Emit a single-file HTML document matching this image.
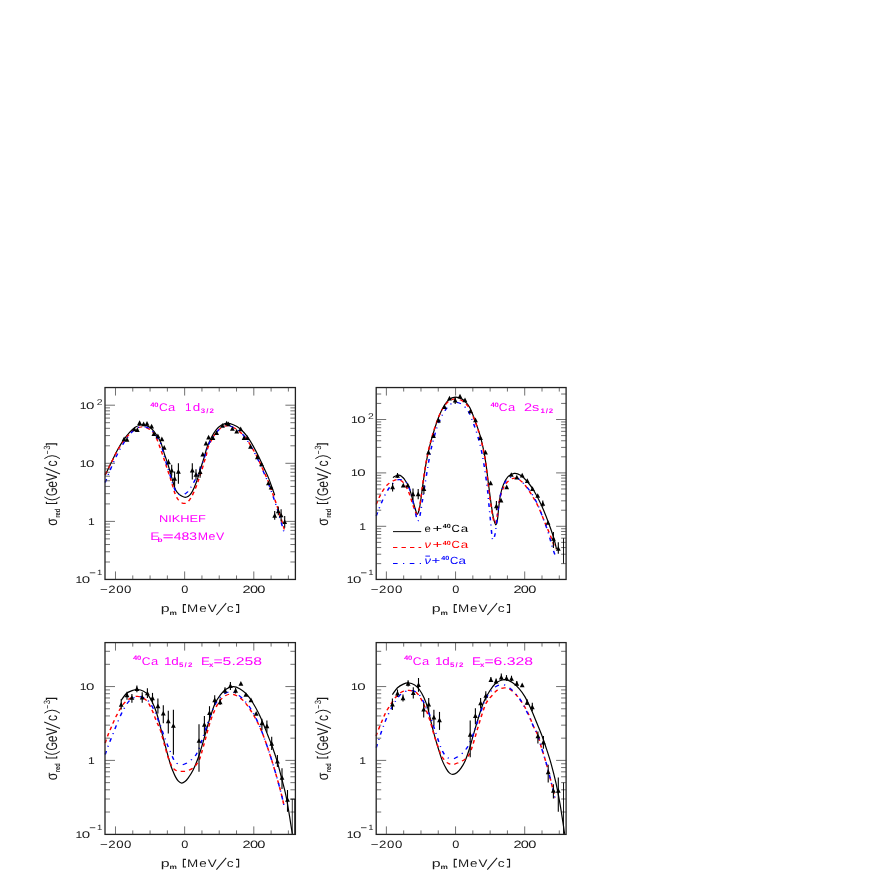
<!DOCTYPE html>
<html><head><meta charset="utf-8"><title>sigma_red</title>
<style>
html,body{margin:0;padding:0;background:#fff;}
body{width:872px;height:872px;overflow:hidden;font-family:"Liberation Sans",sans-serif;}
svg{display:block;filter:blur(0.35px);}
svg text{text-rendering:geometricPrecision;}
</style></head><body>
<svg width="872" height="872" viewBox="0 0 872 872" font-family="'Liberation Sans', sans-serif">
<rect width="872" height="872" fill="#fff"/>
<g>
<path d="M105.20 475.20 C106.25 473.00 109.50 466.12 111.50 462.00 C113.50 457.88 115.20 454.13 117.20 450.50 C119.20 446.87 121.40 443.25 123.50 440.20 C125.60 437.15 127.78 434.40 129.80 432.20 C131.82 430.00 133.68 428.20 135.60 427.00 C137.52 425.80 139.40 425.18 141.30 425.00 C143.20 424.82 145.28 425.28 147.00 425.90 C148.72 426.52 150.07 427.27 151.60 428.70 C153.13 430.13 154.67 432.20 156.20 434.50 C157.73 436.80 159.38 439.08 160.80 442.50 C162.22 445.92 163.57 451.55 164.70 455.00 C165.83 458.45 166.60 460.05 167.60 463.20 C168.60 466.35 169.70 470.43 170.70 473.90 C171.70 477.37 172.75 481.27 173.60 484.00 C174.45 486.73 174.92 488.62 175.80 490.30 C176.68 491.98 177.85 493.10 178.90 494.10 C179.95 495.10 181.05 495.77 182.10 496.30 C183.15 496.83 184.15 497.30 185.20 497.30 C186.25 497.30 187.35 497.03 188.40 496.30 C189.45 495.57 190.55 494.32 191.50 492.90 C192.45 491.48 193.25 489.70 194.10 487.80 C194.95 485.90 195.77 483.82 196.60 481.50 C197.43 479.18 198.15 476.95 199.10 473.90 C200.05 470.85 201.40 466.13 202.30 463.20 C203.20 460.27 203.73 458.88 204.50 456.30 C205.27 453.72 205.73 450.87 206.90 447.70 C208.07 444.53 209.97 440.27 211.50 437.30 C213.03 434.33 214.48 431.90 216.10 429.90 C217.72 427.90 219.40 426.40 221.20 425.30 C223.00 424.20 224.88 423.40 226.90 423.30 C228.92 423.20 231.10 423.80 233.30 424.70 C235.50 425.60 237.82 426.78 240.10 428.70 C242.38 430.62 244.88 433.42 247.00 436.20 C249.12 438.98 250.88 442.05 252.80 445.40 C254.72 448.75 256.70 452.67 258.50 456.30 C260.30 459.93 261.88 463.48 263.60 467.20 C265.32 470.92 266.95 473.92 268.80 478.60 C270.65 483.28 273.72 492.52 274.70 495.30" fill="none" stroke="#000" stroke-width="1.20" stroke-linejoin="round"/>
<g transform="scale(1.250 1)"><path d="M84.16 474.50 C85.00 472.47 87.60 466.18 89.20 462.30 C90.80 458.42 92.16 454.72 93.76 451.20 C95.36 447.68 97.12 444.13 98.80 441.20 C100.48 438.27 102.23 435.67 103.84 433.60 C105.45 431.53 106.95 429.90 108.48 428.80 C110.01 427.70 111.52 427.13 113.04 427.00 C114.56 426.87 116.23 427.30 117.60 428.00 C118.97 428.70 120.05 429.62 121.28 431.20 C122.51 432.78 123.40 433.22 124.96 437.50 C126.52 441.78 129.23 451.88 130.64 456.90 C132.05 461.92 132.55 464.23 133.44 467.60 C134.33 470.97 135.24 474.15 136.00 477.10 C136.76 480.05 137.33 482.57 138.00 485.30 C138.67 488.03 139.23 491.08 140.00 493.50 C140.77 495.92 141.69 498.23 142.64 499.80 C143.59 501.37 144.76 502.30 145.68 502.90 C146.60 503.50 147.40 503.55 148.16 503.40 C148.92 503.25 149.48 502.92 150.24 502.00 C151.00 501.08 151.88 499.63 152.72 497.90 C153.56 496.17 154.48 493.80 155.28 491.60 C156.08 489.40 156.85 486.92 157.52 484.70 C158.19 482.48 158.65 480.62 159.28 478.30 C159.91 475.98 160.60 473.53 161.28 470.80 C161.96 468.07 162.76 464.32 163.36 461.90 C163.96 459.48 164.39 458.67 164.88 456.30 C165.37 453.93 165.47 450.70 166.32 447.70 C167.17 444.70 168.77 441.02 170.00 438.30 C171.23 435.58 172.39 433.23 173.68 431.40 C174.97 429.57 176.37 428.27 177.76 427.30 C179.15 426.33 180.65 425.65 182.00 425.60 C183.35 425.55 184.29 426.07 185.84 427.00 C187.39 427.93 189.47 429.35 191.28 431.20 C193.09 433.05 195.08 435.52 196.72 438.10 C198.36 440.68 199.60 443.50 201.12 446.70 C202.64 449.90 204.37 453.70 205.84 457.30 C207.31 460.90 208.55 464.53 209.92 468.30 C211.29 472.07 212.63 475.40 214.08 479.90 C215.53 484.40 217.15 490.07 218.64 495.30 C220.13 500.53 221.57 505.63 223.04 511.30 C224.51 516.97 226.71 526.30 227.44 529.30" fill="none" stroke="#ff0000" stroke-width="1.20" stroke-dasharray="3.5 3.3" stroke-linejoin="round"/></g>
<g transform="scale(1.250 1)"><path d="M84.16 482.50 C84.60 481.08 85.76 477.17 86.80 474.00 C87.84 470.83 89.07 467.17 90.40 463.50 C91.73 459.83 93.27 455.62 94.80 452.00 C96.33 448.38 98.00 444.87 99.60 441.80 C101.20 438.73 102.87 435.80 104.40 433.60 C105.93 431.40 107.32 429.77 108.80 428.60 C110.28 427.43 111.81 426.78 113.28 426.60 C114.75 426.42 116.27 426.87 117.60 427.50 C118.93 428.13 120.05 428.98 121.28 430.40 C122.51 431.82 123.73 433.73 124.96 436.00 C126.19 438.27 127.37 439.78 128.64 444.00 C129.91 448.22 131.40 456.42 132.56 461.30 C133.72 466.18 134.60 469.30 135.60 473.30 C136.60 477.30 137.64 482.15 138.56 485.30 C139.48 488.45 140.28 490.65 141.12 492.20 C141.96 493.75 142.76 494.12 143.60 494.60 C144.44 495.08 145.36 495.27 146.16 495.10 C146.96 494.93 147.64 494.28 148.40 493.60 C149.16 492.92 149.83 492.43 150.72 491.00 C151.61 489.57 152.84 486.90 153.76 485.00 C154.68 483.10 155.48 481.45 156.24 479.60 C157.00 477.75 157.56 476.00 158.32 473.90 C159.08 471.80 160.05 469.32 160.80 467.00 C161.55 464.68 161.80 463.67 162.80 460.00 C163.80 456.33 165.56 448.73 166.80 445.00 C168.04 441.27 169.07 439.87 170.24 437.60 C171.41 435.33 172.59 433.12 173.84 431.40 C175.09 429.68 176.40 428.27 177.76 427.30 C179.12 426.33 180.68 425.68 182.00 425.60 C183.32 425.52 184.16 425.93 185.68 426.80 C187.20 427.67 189.31 428.92 191.12 430.80 C192.93 432.68 194.92 435.42 196.56 438.10 C198.20 440.78 199.44 443.63 200.96 446.90 C202.48 450.17 204.21 454.03 205.68 457.70 C207.15 461.37 208.39 465.03 209.76 468.90 C211.13 472.77 212.47 476.33 213.92 480.90 C215.37 485.47 216.99 490.90 218.48 496.30 C219.97 501.70 221.44 507.38 222.88 513.30 C224.32 519.22 226.41 528.72 227.12 531.80" fill="none" stroke="#0000ff" stroke-width="1.20" stroke-dasharray="3.7 4.3 1.0 4.4" stroke-linejoin="round"/></g>
<path d="M121.70 441.14 L126.50 441.14 L124.10 436.46 Z" fill="#000"/>
<path d="M124.60 441.64 L129.40 441.64 L127.00 436.96 Z" fill="#000"/>
<path d="M132.00 431.34 L136.80 431.34 L134.40 426.66 Z" fill="#000"/>
<path d="M134.90 431.94 L139.70 431.94 L137.30 427.26 Z" fill="#000"/>
<path d="M137.20 425.04 L142.00 425.04 L139.60 420.36 Z" fill="#000"/>
<path d="M141.20 426.24 L146.00 426.24 L143.60 421.56 Z" fill="#000"/>
<path d="M144.60 425.64 L149.40 425.64 L147.00 420.96 Z" fill="#000"/>
<path d="M149.20 428.44 L154.00 428.44 L151.60 423.76 Z" fill="#000"/>
<path d="M151.50 435.94 L156.30 435.94 L153.90 431.26 Z" fill="#000"/>
<path d="M155.50 438.24 L160.30 438.24 L157.90 433.56 Z" fill="#000"/>
<path d="M159.50 441.14 L164.30 441.14 L161.90 436.46 Z" fill="#000"/>
<path d="M161.80 449.74 L166.60 449.74 L164.20 445.06 Z" fill="#000"/>
<line x1="168.50" y1="459.40" x2="168.50" y2="464.00" stroke="#000" stroke-width="1.1"/>
<path d="M166.10 464.34 L170.90 464.34 L168.50 459.66 Z" fill="#000"/>
<line x1="171.70" y1="464.80" x2="171.70" y2="475.80" stroke="#000" stroke-width="1.1"/>
<path d="M169.30 472.54 L174.10 472.54 L171.70 467.86 Z" fill="#000"/>
<line x1="174.60" y1="471.40" x2="174.60" y2="486.50" stroke="#000" stroke-width="1.1"/>
<path d="M172.20 480.74 L177.00 480.74 L174.60 476.06 Z" fill="#000"/>
<line x1="178.40" y1="463.20" x2="178.40" y2="483.70" stroke="#000" stroke-width="1.1"/>
<path d="M176.00 473.74 L180.80 473.74 L178.40 469.06 Z" fill="#000"/>
<line x1="192.30" y1="463.20" x2="192.30" y2="479.60" stroke="#000" stroke-width="1.1"/>
<path d="M189.90 472.54 L194.70 472.54 L192.30 467.86 Z" fill="#000"/>
<line x1="196.00" y1="469.20" x2="196.00" y2="479.60" stroke="#000" stroke-width="1.1"/>
<path d="M193.60 476.64 L198.40 476.64 L196.00 471.96 Z" fill="#000"/>
<line x1="200.10" y1="466.40" x2="200.10" y2="477.70" stroke="#000" stroke-width="1.1"/>
<path d="M197.70 474.04 L202.50 474.04 L200.10 469.36 Z" fill="#000"/>
<path d="M200.40 456.44 L205.20 456.44 L202.80 451.76 Z" fill="#000"/>
<path d="M203.60 445.44 L208.40 445.44 L206.00 440.76 Z" fill="#000"/>
<path d="M206.20 439.54 L211.00 439.54 L208.60 434.86 Z" fill="#000"/>
<path d="M210.50 439.94 L215.30 439.94 L212.90 435.26 Z" fill="#000"/>
<path d="M214.20 434.94 L219.00 434.94 L216.60 430.26 Z" fill="#000"/>
<path d="M220.10 427.64 L224.90 427.64 L222.50 422.96 Z" fill="#000"/>
<path d="M224.30 425.34 L229.10 425.34 L226.70 420.66 Z" fill="#000"/>
<path d="M226.10 426.24 L230.90 426.24 L228.50 421.56 Z" fill="#000"/>
<path d="M230.00 430.84 L234.80 430.84 L232.40 426.16 Z" fill="#000"/>
<path d="M234.30 433.54 L239.10 433.54 L236.70 428.86 Z" fill="#000"/>
<path d="M238.30 431.24 L243.10 431.24 L240.70 426.56 Z" fill="#000"/>
<path d="M241.70 439.94 L246.50 439.94 L244.10 435.26 Z" fill="#000"/>
<path d="M244.90 439.94 L249.70 439.94 L247.30 435.26 Z" fill="#000"/>
<path d="M248.10 448.74 L252.90 448.74 L250.50 444.06 Z" fill="#000"/>
<path d="M255.00 459.24 L259.80 459.24 L257.40 454.56 Z" fill="#000"/>
<path d="M259.10 466.14 L263.90 466.14 L261.50 461.46 Z" fill="#000"/>
<path d="M266.00 485.34 L270.80 485.34 L268.40 480.66 Z" fill="#000"/>
<path d="M268.70 489.54 L273.50 489.54 L271.10 484.86 Z" fill="#000"/>
<line x1="274.70" y1="510.90" x2="274.70" y2="519.80" stroke="#000" stroke-width="1.1"/>
<path d="M272.30 517.74 L277.10 517.74 L274.70 513.06 Z" fill="#000"/>
<line x1="278.30" y1="506.50" x2="278.30" y2="515.20" stroke="#000" stroke-width="1.1"/>
<path d="M275.90 513.34 L280.70 513.34 L278.30 508.66 Z" fill="#000"/>
<line x1="281.10" y1="509.30" x2="281.10" y2="521.40" stroke="#000" stroke-width="1.1"/>
<path d="M278.70 517.34 L283.50 517.34 L281.10 512.66 Z" fill="#000"/>
<line x1="284.70" y1="516.10" x2="284.70" y2="527.80" stroke="#000" stroke-width="1.1"/>
<path d="M282.30 524.04 L287.10 524.04 L284.70 519.36 Z" fill="#000"/>
</g>
<rect x="105.00" y="387.55" width="190.40" height="191.90" fill="none" stroke="#222" stroke-width="1.3"/>
<path d="M115.49 579.45 v-8.00 M115.49 387.55 v8.00" stroke="#333" stroke-width="0.7"/>
<path d="M132.78 579.45 v-4.00 M132.78 387.55 v4.00" stroke="#333" stroke-width="0.7"/>
<path d="M150.07 579.45 v-4.00 M150.07 387.55 v4.00" stroke="#333" stroke-width="0.7"/>
<path d="M167.36 579.45 v-4.00 M167.36 387.55 v4.00" stroke="#333" stroke-width="0.7"/>
<path d="M184.65 579.45 v-8.00 M184.65 387.55 v8.00" stroke="#333" stroke-width="0.7"/>
<path d="M201.94 579.45 v-4.00 M201.94 387.55 v4.00" stroke="#333" stroke-width="0.7"/>
<path d="M219.23 579.45 v-4.00 M219.23 387.55 v4.00" stroke="#333" stroke-width="0.7"/>
<path d="M236.52 579.45 v-4.00 M236.52 387.55 v4.00" stroke="#333" stroke-width="0.7"/>
<path d="M253.81 579.45 v-8.00 M253.81 387.55 v8.00" stroke="#333" stroke-width="0.7"/>
<path d="M271.10 579.45 v-4.00 M271.10 387.55 v4.00" stroke="#333" stroke-width="0.7"/>
<path d="M288.39 579.45 v-4.00 M288.39 387.55 v4.00" stroke="#333" stroke-width="0.7"/>
<path d="M105.00 562.01 h5.00 M295.40 562.01 h-5.00" stroke="#333" stroke-width="0.7"/>
<path d="M105.00 551.78 h5.00 M295.40 551.78 h-5.00" stroke="#333" stroke-width="0.7"/>
<path d="M105.00 544.52 h5.00 M295.40 544.52 h-5.00" stroke="#333" stroke-width="0.7"/>
<path d="M105.00 538.89 h5.00 M295.40 538.89 h-5.00" stroke="#333" stroke-width="0.7"/>
<path d="M105.00 534.29 h5.00 M295.40 534.29 h-5.00" stroke="#333" stroke-width="0.7"/>
<path d="M105.00 530.40 h5.00 M295.40 530.40 h-5.00" stroke="#333" stroke-width="0.7"/>
<path d="M105.00 527.03 h5.00 M295.40 527.03 h-5.00" stroke="#333" stroke-width="0.7"/>
<path d="M105.00 524.06 h5.00 M295.40 524.06 h-5.00" stroke="#333" stroke-width="0.7"/>
<path d="M105.00 521.40 h10.00 M295.40 521.40 h-10.00" stroke="#333" stroke-width="0.7"/>
<path d="M105.00 503.91 h5.00 M295.40 503.91 h-5.00" stroke="#333" stroke-width="0.7"/>
<path d="M105.00 493.68 h5.00 M295.40 493.68 h-5.00" stroke="#333" stroke-width="0.7"/>
<path d="M105.00 486.42 h5.00 M295.40 486.42 h-5.00" stroke="#333" stroke-width="0.7"/>
<path d="M105.00 480.79 h5.00 M295.40 480.79 h-5.00" stroke="#333" stroke-width="0.7"/>
<path d="M105.00 476.19 h5.00 M295.40 476.19 h-5.00" stroke="#333" stroke-width="0.7"/>
<path d="M105.00 472.30 h5.00 M295.40 472.30 h-5.00" stroke="#333" stroke-width="0.7"/>
<path d="M105.00 468.93 h5.00 M295.40 468.93 h-5.00" stroke="#333" stroke-width="0.7"/>
<path d="M105.00 465.96 h5.00 M295.40 465.96 h-5.00" stroke="#333" stroke-width="0.7"/>
<path d="M105.00 463.30 h10.00 M295.40 463.30 h-10.00" stroke="#333" stroke-width="0.7"/>
<path d="M105.00 445.81 h5.00 M295.40 445.81 h-5.00" stroke="#333" stroke-width="0.7"/>
<path d="M105.00 435.58 h5.00 M295.40 435.58 h-5.00" stroke="#333" stroke-width="0.7"/>
<path d="M105.00 428.32 h5.00 M295.40 428.32 h-5.00" stroke="#333" stroke-width="0.7"/>
<path d="M105.00 422.69 h5.00 M295.40 422.69 h-5.00" stroke="#333" stroke-width="0.7"/>
<path d="M105.00 418.09 h5.00 M295.40 418.09 h-5.00" stroke="#333" stroke-width="0.7"/>
<path d="M105.00 414.20 h5.00 M295.40 414.20 h-5.00" stroke="#333" stroke-width="0.7"/>
<path d="M105.00 410.83 h5.00 M295.40 410.83 h-5.00" stroke="#333" stroke-width="0.7"/>
<path d="M105.00 407.86 h5.00 M295.40 407.86 h-5.00" stroke="#333" stroke-width="0.7"/>
<path d="M105.00 405.20 h10.00 M295.40 405.20 h-10.00" stroke="#333" stroke-width="0.7"/>
<g>
<path d="M392.90 477.50 C393.33 477.25 394.53 476.38 395.50 476.00 C396.47 475.62 397.70 475.15 398.70 475.20 C399.70 475.25 400.55 475.63 401.50 476.30 C402.45 476.97 403.15 477.38 404.40 479.20 C405.65 481.02 407.67 483.95 409.00 487.20 C410.33 490.45 411.35 495.07 412.40 498.70 C413.45 502.33 414.50 506.42 415.30 509.00 C416.10 511.58 416.53 514.20 417.20 514.20 C417.87 514.20 418.67 511.58 419.30 509.00 C419.93 506.42 420.42 502.72 421.00 498.70 C421.58 494.68 422.13 489.68 422.80 484.90 C423.47 480.12 424.43 473.72 425.00 470.00 C425.57 466.28 425.62 465.75 426.20 462.60 C426.78 459.45 427.63 454.93 428.50 451.10 C429.37 447.27 430.35 443.42 431.40 439.60 C432.45 435.78 433.57 432.02 434.80 428.20 C436.03 424.38 437.37 420.23 438.80 416.70 C440.23 413.17 441.68 409.87 443.40 407.00 C445.12 404.13 447.10 401.13 449.10 399.50 C451.10 397.87 453.30 397.30 455.40 397.20 C457.50 397.10 459.88 397.95 461.70 398.90 C463.52 399.85 464.92 401.37 466.30 402.90 C467.68 404.43 468.43 404.85 470.00 408.10 C471.57 411.35 473.98 417.72 475.70 422.40 C477.42 427.08 478.95 431.42 480.30 436.20 C481.65 440.98 482.83 446.32 483.80 451.10 C484.77 455.88 485.25 458.88 486.10 464.90 C486.95 470.92 488.05 480.62 488.90 487.20 C489.75 493.78 490.43 499.23 491.20 504.40 C491.97 509.57 492.73 514.80 493.50 518.20 C494.27 521.60 495.13 524.62 495.80 524.80 C496.47 524.98 497.02 522.13 497.50 519.30 C497.98 516.47 498.22 511.82 498.70 507.80 C499.18 503.78 499.63 499.02 500.40 495.20 C501.17 491.38 502.07 487.95 503.30 484.90 C504.53 481.85 505.98 478.82 507.80 476.90 C509.62 474.98 512.08 473.68 514.20 473.40 C516.32 473.12 518.32 473.85 520.50 475.20 C522.68 476.55 525.02 478.83 527.30 481.50 C529.58 484.17 531.90 487.38 534.20 491.20 C536.50 495.02 539.00 499.90 541.10 504.40 C543.20 508.90 545.08 513.80 546.80 518.20 C548.52 522.60 550.15 527.17 551.40 530.80 C552.65 534.43 553.45 536.97 554.30 540.00 C555.15 543.03 556.13 547.50 556.50 549.00" fill="none" stroke="#000" stroke-width="1.20" stroke-linejoin="round"/>
<g transform="scale(1.250 1)"><path d="M301.04 504.40 C301.57 502.87 302.93 498.25 304.24 495.20 C305.55 492.15 307.20 488.48 308.88 486.10 C310.56 483.72 312.64 481.97 314.32 480.90 C316.00 479.83 317.43 479.22 318.96 479.70 C320.49 480.18 322.15 481.60 323.52 483.80 C324.89 486.00 326.13 489.65 327.20 492.90 C328.27 496.15 329.12 500.37 329.92 503.30 C330.72 506.23 331.39 508.68 332.00 510.50 C332.61 512.32 333.05 514.45 333.60 514.20 C334.15 513.95 334.77 511.58 335.28 509.00 C335.79 506.42 336.17 502.72 336.64 498.70 C337.11 494.68 337.55 489.68 338.08 484.90 C338.61 480.12 339.39 473.72 339.84 470.00 C340.29 466.28 340.33 465.75 340.80 462.60 C341.27 459.45 341.95 454.93 342.64 451.10 C343.33 447.27 344.12 443.42 344.96 439.60 C345.80 435.78 346.69 431.97 347.68 428.20 C348.67 424.43 349.73 420.40 350.88 417.00 C352.03 413.60 353.16 410.47 354.56 407.80 C355.96 405.13 357.65 402.48 359.28 401.00 C360.91 399.52 362.64 398.98 364.32 398.90 C366.00 398.82 367.91 399.60 369.36 400.50 C370.81 401.40 371.93 402.83 373.04 404.30 C374.15 405.77 374.75 406.18 376.00 409.30 C377.25 412.42 379.21 418.47 380.56 423.00 C381.91 427.53 383.03 431.78 384.08 436.50 C385.13 441.22 386.11 446.57 386.88 451.30 C387.65 456.03 388.07 458.92 388.72 464.90 C389.37 470.88 390.15 480.62 390.80 487.20 C391.45 493.78 392.04 499.35 392.64 504.40 C393.24 509.45 393.85 514.35 394.40 517.50 C394.95 520.65 395.41 523.17 395.92 523.30 C396.43 523.43 396.99 520.88 397.44 518.30 C397.89 515.72 398.16 511.48 398.64 507.80 C399.12 504.12 399.59 499.67 400.32 496.20 C401.05 492.73 401.89 489.62 403.04 487.00 C404.19 484.38 405.59 481.95 407.20 480.50 C408.81 479.05 410.73 477.75 412.72 478.30 C414.71 478.85 416.99 480.98 419.12 483.80 C421.25 486.62 423.53 491.20 425.52 495.20 C427.51 499.20 429.36 503.40 431.04 507.80 C432.72 512.20 434.07 517.00 435.60 521.60 C437.13 526.20 438.79 530.82 440.24 535.40 C441.69 539.98 443.64 546.82 444.32 549.10" fill="none" stroke="#ff0000" stroke-width="1.20" stroke-dasharray="3.5 3.3" stroke-linejoin="round"/></g>
<g transform="scale(1.250 1)"><path d="M301.04 515.90 C301.57 514.18 302.93 509.43 304.24 505.60 C305.55 501.77 307.20 496.63 308.88 492.90 C310.56 489.17 312.64 485.40 314.32 483.20 C316.00 481.00 317.27 479.98 318.96 479.70 C320.65 479.42 322.96 479.68 324.48 481.50 C326.00 483.32 327.01 486.78 328.08 490.60 C329.15 494.42 330.04 500.00 330.88 504.40 C331.72 508.80 332.55 514.23 333.12 517.00 C333.69 519.77 333.85 521.18 334.32 521.00 C334.79 520.82 335.35 519.05 335.92 515.90 C336.49 512.75 337.15 506.88 337.76 502.10 C338.37 497.32 338.92 492.55 339.60 487.20 C340.28 481.85 341.24 474.53 341.84 470.00 C342.44 465.47 342.71 463.42 343.20 460.00 C343.69 456.58 344.19 453.00 344.80 449.50 C345.41 446.00 346.08 442.67 346.88 439.00 C347.68 435.33 348.64 431.00 349.60 427.50 C350.56 424.00 351.52 420.92 352.64 418.00 C353.76 415.08 355.03 412.28 356.32 410.00 C357.61 407.72 359.07 405.57 360.40 404.30 C361.73 403.03 362.99 402.52 364.32 402.40 C365.65 402.28 367.12 402.83 368.40 403.60 C369.68 404.37 370.87 405.52 372.00 407.00 C373.13 408.48 374.07 409.75 375.20 412.50 C376.33 415.25 377.60 419.42 378.80 423.50 C380.00 427.58 381.32 432.33 382.40 437.00 C383.48 441.67 384.45 446.67 385.28 451.50 C386.11 456.33 386.61 460.05 387.36 466.00 C388.11 471.95 389.13 480.80 389.76 487.20 C390.39 493.60 390.67 498.67 391.12 504.40 C391.57 510.13 392.01 515.87 392.48 521.60 C392.95 527.33 393.44 536.15 393.92 538.80 C394.40 541.45 394.91 539.03 395.36 537.50 C395.81 535.97 396.12 534.17 396.64 529.60 C397.16 525.03 397.79 516.22 398.48 510.10 C399.17 503.98 399.80 497.67 400.80 492.90 C401.80 488.13 403.11 484.17 404.48 481.50 C405.85 478.83 407.65 477.62 409.04 476.90 C410.43 476.18 411.43 476.43 412.80 477.20 C414.17 477.97 415.47 479.27 417.28 481.50 C419.09 483.73 421.69 487.17 423.68 490.60 C425.67 494.03 427.52 497.88 429.20 502.10 C430.88 506.32 432.23 510.93 433.76 515.90 C435.29 520.87 437.01 526.55 438.40 531.90 C439.79 537.25 441.09 543.98 442.08 548.00 C443.07 552.02 443.95 554.67 444.32 556.00" fill="none" stroke="#0000ff" stroke-width="1.20" stroke-dasharray="3.7 4.3 1.0 4.4" stroke-linejoin="round"/></g>
<line x1="392.60" y1="483.00" x2="392.60" y2="491.50" stroke="#000" stroke-width="1.1"/>
<path d="M390.20 489.24 L395.00 489.24 L392.60 484.56 Z" fill="#000"/>
<line x1="397.50" y1="473.00" x2="397.50" y2="478.00" stroke="#000" stroke-width="1.1"/>
<path d="M395.10 477.74 L399.90 477.74 L397.50 473.06 Z" fill="#000"/>
<path d="M400.90 487.54 L405.70 487.54 L403.30 482.86 Z" fill="#000"/>
<path d="M405.40 487.54 L410.20 487.54 L407.80 482.86 Z" fill="#000"/>
<line x1="413.00" y1="488.40" x2="413.00" y2="499.80" stroke="#000" stroke-width="1.1"/>
<path d="M410.60 496.14 L415.40 496.14 L413.00 491.46 Z" fill="#000"/>
<line x1="418.20" y1="489.00" x2="418.20" y2="499.20" stroke="#000" stroke-width="1.1"/>
<path d="M415.80 496.14 L420.60 496.14 L418.20 491.46 Z" fill="#000"/>
<line x1="423.90" y1="485.00" x2="423.90" y2="494.00" stroke="#000" stroke-width="1.1"/>
<path d="M421.50 490.94 L426.30 490.94 L423.90 486.26 Z" fill="#000"/>
<path d="M426.10 454.54 L430.90 454.54 L428.50 449.86 Z" fill="#000"/>
<path d="M431.10 438.04 L435.90 438.04 L433.50 433.36 Z" fill="#000"/>
<path d="M436.10 422.54 L440.90 422.54 L438.50 417.86 Z" fill="#000"/>
<path d="M442.10 409.04 L446.90 409.04 L444.50 404.36 Z" fill="#000"/>
<path d="M447.10 400.54 L451.90 400.54 L449.50 395.86 Z" fill="#000"/>
<line x1="455.20" y1="397.00" x2="455.20" y2="404.00" stroke="#000" stroke-width="1.1"/>
<path d="M452.80 402.54 L457.60 402.54 L455.20 397.86 Z" fill="#000"/>
<path d="M457.60 398.54 L462.40 398.54 L460.00 393.86 Z" fill="#000"/>
<path d="M462.60 402.24 L467.40 402.24 L465.00 397.56 Z" fill="#000"/>
<path d="M468.10 413.14 L472.90 413.14 L470.50 408.46 Z" fill="#000"/>
<path d="M473.10 422.24 L477.90 422.24 L475.50 417.56 Z" fill="#000"/>
<path d="M478.10 440.04 L482.90 440.04 L480.50 435.36 Z" fill="#000"/>
<path d="M483.10 454.54 L487.90 454.54 L485.50 449.86 Z" fill="#000"/>
<path d="M488.20 485.24 L493.00 485.24 L490.60 480.56 Z" fill="#000"/>
<line x1="496.40" y1="501.00" x2="496.40" y2="510.20" stroke="#000" stroke-width="1.1"/>
<path d="M494.00 508.14 L498.80 508.14 L496.40 503.46 Z" fill="#000"/>
<path d="M498.60 502.44 L503.40 502.44 L501.00 497.76 Z" fill="#000"/>
<path d="M504.30 489.24 L509.10 489.24 L506.70 484.56 Z" fill="#000"/>
<path d="M508.90 476.84 L513.70 476.84 L511.30 472.16 Z" fill="#000"/>
<path d="M514.40 479.54 L519.20 479.54 L516.80 474.86 Z" fill="#000"/>
<path d="M519.80 477.54 L524.60 477.54 L522.20 472.86 Z" fill="#000"/>
<path d="M524.90 482.94 L529.70 482.94 L527.30 478.26 Z" fill="#000"/>
<path d="M530.10 490.94 L534.90 490.94 L532.50 486.26 Z" fill="#000"/>
<path d="M535.30 497.84 L540.10 497.84 L537.70 493.16 Z" fill="#000"/>
<line x1="542.80" y1="500.40" x2="542.80" y2="506.70" stroke="#000" stroke-width="1.1"/>
<path d="M540.40 505.84 L545.20 505.84 L542.80 501.16 Z" fill="#000"/>
<path d="M545.60 524.84 L550.40 524.84 L548.00 520.16 Z" fill="#000"/>
<line x1="553.40" y1="532.00" x2="553.40" y2="548.00" stroke="#000" stroke-width="1.1"/>
<path d="M551.00 540.84 L555.80 540.84 L553.40 536.16 Z" fill="#000"/>
<line x1="558.30" y1="542.30" x2="558.30" y2="553.70" stroke="#000" stroke-width="1.1"/>
<path d="M555.90 550.64 L560.70 550.64 L558.30 545.96 Z" fill="#000"/>
</g>
<rect x="376.20" y="387.55" width="189.90" height="191.90" fill="none" stroke="#222" stroke-width="1.3"/>
<path d="M386.39 579.45 v-8.00 M386.39 387.55 v8.00" stroke="#333" stroke-width="0.7"/>
<path d="M403.68 579.45 v-4.00 M403.68 387.55 v4.00" stroke="#333" stroke-width="0.7"/>
<path d="M420.97 579.45 v-4.00 M420.97 387.55 v4.00" stroke="#333" stroke-width="0.7"/>
<path d="M438.26 579.45 v-4.00 M438.26 387.55 v4.00" stroke="#333" stroke-width="0.7"/>
<path d="M455.55 579.45 v-8.00 M455.55 387.55 v8.00" stroke="#333" stroke-width="0.7"/>
<path d="M472.84 579.45 v-4.00 M472.84 387.55 v4.00" stroke="#333" stroke-width="0.7"/>
<path d="M490.13 579.45 v-4.00 M490.13 387.55 v4.00" stroke="#333" stroke-width="0.7"/>
<path d="M507.42 579.45 v-4.00 M507.42 387.55 v4.00" stroke="#333" stroke-width="0.7"/>
<path d="M524.71 579.45 v-8.00 M524.71 387.55 v8.00" stroke="#333" stroke-width="0.7"/>
<path d="M542.00 579.45 v-4.00 M542.00 387.55 v4.00" stroke="#333" stroke-width="0.7"/>
<path d="M559.29 579.45 v-4.00 M559.29 387.55 v4.00" stroke="#333" stroke-width="0.7"/>
<path d="M376.20 563.62 h5.00 M566.10 563.62 h-5.00" stroke="#333" stroke-width="0.7"/>
<path d="M376.20 554.22 h5.00 M566.10 554.22 h-5.00" stroke="#333" stroke-width="0.7"/>
<path d="M376.20 547.55 h5.00 M566.10 547.55 h-5.00" stroke="#333" stroke-width="0.7"/>
<path d="M376.20 542.38 h5.00 M566.10 542.38 h-5.00" stroke="#333" stroke-width="0.7"/>
<path d="M376.20 538.15 h5.00 M566.10 538.15 h-5.00" stroke="#333" stroke-width="0.7"/>
<path d="M376.20 534.57 h5.00 M566.10 534.57 h-5.00" stroke="#333" stroke-width="0.7"/>
<path d="M376.20 531.47 h5.00 M566.10 531.47 h-5.00" stroke="#333" stroke-width="0.7"/>
<path d="M376.20 528.74 h5.00 M566.10 528.74 h-5.00" stroke="#333" stroke-width="0.7"/>
<path d="M376.20 526.30 h10.00 M566.10 526.30 h-10.00" stroke="#333" stroke-width="0.7"/>
<path d="M376.20 510.22 h5.00 M566.10 510.22 h-5.00" stroke="#333" stroke-width="0.7"/>
<path d="M376.20 500.82 h5.00 M566.10 500.82 h-5.00" stroke="#333" stroke-width="0.7"/>
<path d="M376.20 494.15 h5.00 M566.10 494.15 h-5.00" stroke="#333" stroke-width="0.7"/>
<path d="M376.20 488.98 h5.00 M566.10 488.98 h-5.00" stroke="#333" stroke-width="0.7"/>
<path d="M376.20 484.75 h5.00 M566.10 484.75 h-5.00" stroke="#333" stroke-width="0.7"/>
<path d="M376.20 481.17 h5.00 M566.10 481.17 h-5.00" stroke="#333" stroke-width="0.7"/>
<path d="M376.20 478.07 h5.00 M566.10 478.07 h-5.00" stroke="#333" stroke-width="0.7"/>
<path d="M376.20 475.34 h5.00 M566.10 475.34 h-5.00" stroke="#333" stroke-width="0.7"/>
<path d="M376.20 472.90 h10.00 M566.10 472.90 h-10.00" stroke="#333" stroke-width="0.7"/>
<path d="M376.20 456.82 h5.00 M566.10 456.82 h-5.00" stroke="#333" stroke-width="0.7"/>
<path d="M376.20 447.42 h5.00 M566.10 447.42 h-5.00" stroke="#333" stroke-width="0.7"/>
<path d="M376.20 440.75 h5.00 M566.10 440.75 h-5.00" stroke="#333" stroke-width="0.7"/>
<path d="M376.20 435.58 h5.00 M566.10 435.58 h-5.00" stroke="#333" stroke-width="0.7"/>
<path d="M376.20 431.35 h5.00 M566.10 431.35 h-5.00" stroke="#333" stroke-width="0.7"/>
<path d="M376.20 427.77 h5.00 M566.10 427.77 h-5.00" stroke="#333" stroke-width="0.7"/>
<path d="M376.20 424.67 h5.00 M566.10 424.67 h-5.00" stroke="#333" stroke-width="0.7"/>
<path d="M376.20 421.94 h5.00 M566.10 421.94 h-5.00" stroke="#333" stroke-width="0.7"/>
<path d="M376.20 419.50 h10.00 M566.10 419.50 h-10.00" stroke="#333" stroke-width="0.7"/>
<path d="M376.20 403.42 h5.00 M566.10 403.42 h-5.00" stroke="#333" stroke-width="0.7"/>
<path d="M376.20 394.02 h5.00 M566.10 394.02 h-5.00" stroke="#333" stroke-width="0.7"/>
<line x1="563.5" y1="538.2" x2="563.5" y2="563.5" stroke="#000" stroke-width="0.9"/>
<g>
<path d="M121.20 700.40 C122.07 699.25 124.58 695.13 126.40 693.50 C128.22 691.87 130.28 691.27 132.10 690.60 C133.92 689.93 135.38 689.40 137.30 689.50 C139.22 689.60 141.78 690.25 143.60 691.20 C145.42 692.15 146.77 693.38 148.20 695.20 C149.63 697.02 150.87 699.33 152.20 702.10 C153.53 704.87 154.90 707.93 156.20 711.80 C157.50 715.67 158.50 719.70 160.00 725.30 C161.50 730.90 163.48 738.95 165.20 745.40 C166.92 751.85 169.00 759.68 170.30 764.00 C171.60 768.32 172.13 769.15 173.00 771.30 C173.87 773.45 174.60 775.25 175.50 776.90 C176.40 778.55 177.37 780.17 178.40 781.20 C179.43 782.23 180.60 783.03 181.70 783.10 C182.80 783.17 183.97 782.38 185.00 781.60 C186.03 780.82 186.57 780.30 187.90 778.40 C189.23 776.50 191.28 773.63 193.00 770.20 C194.72 766.77 196.48 762.62 198.20 757.80 C199.92 752.98 201.58 747.15 203.30 741.30 C205.02 735.45 206.57 728.95 208.50 722.70 C210.43 716.45 212.88 708.48 214.90 703.80 C216.92 699.12 218.68 697.08 220.60 694.60 C222.52 692.12 224.28 690.23 226.40 688.90 C228.52 687.57 231.02 686.60 233.30 686.60 C235.58 686.60 237.82 687.57 240.10 688.90 C242.38 690.23 244.88 692.30 247.00 694.60 C249.12 696.90 250.88 699.63 252.80 702.70 C254.72 705.77 256.78 709.57 258.50 713.00 C260.22 716.43 261.57 719.63 263.10 723.30 C264.63 726.97 266.18 731.13 267.70 735.00 C269.22 738.87 270.68 742.30 272.20 746.50 C273.72 750.70 275.27 755.05 276.80 760.20 C278.33 765.35 279.87 771.47 281.40 777.40 C282.93 783.33 284.67 789.48 286.00 795.80 C287.33 802.12 288.35 808.95 289.40 815.30 C290.45 821.65 291.82 830.80 292.30 833.90" fill="none" stroke="#000" stroke-width="1.20" stroke-linejoin="round"/>
<g transform="scale(1.250 1)"><path d="M84.16 743.00 C84.53 741.67 85.56 737.72 86.40 735.00 C87.24 732.28 88.12 729.80 89.20 726.70 C90.28 723.60 91.59 719.65 92.88 716.40 C94.17 713.15 95.59 709.78 96.96 707.20 C98.33 704.62 99.67 702.52 101.12 700.90 C102.57 699.28 104.23 698.25 105.68 697.50 C107.13 696.75 108.31 696.30 109.84 696.40 C111.37 696.50 113.43 697.05 114.88 698.10 C116.33 699.15 117.33 700.42 118.56 702.70 C119.79 704.98 121.09 708.55 122.24 711.80 C123.39 715.05 124.48 719.35 125.44 722.20 C126.40 725.05 127.03 725.38 128.00 728.90 C128.97 732.42 130.17 738.48 131.28 743.30 C132.39 748.12 133.53 753.83 134.64 757.80 C135.75 761.77 136.83 764.95 137.92 767.10 C139.01 769.25 139.96 769.98 141.20 770.70 C142.44 771.42 143.84 771.40 145.36 771.40 C146.88 771.40 148.67 771.42 150.32 770.70 C151.97 769.98 153.84 768.73 155.28 767.10 C156.72 765.47 158.00 763.13 158.96 760.90 C159.92 758.67 160.15 757.32 161.04 753.70 C161.93 750.08 163.08 744.72 164.32 739.20 C165.56 733.68 166.91 726.30 168.48 720.60 C170.05 714.90 172.12 708.85 173.76 705.00 C175.40 701.15 176.64 699.32 178.32 697.50 C180.00 695.68 182.00 694.38 183.84 694.10 C185.68 693.82 187.52 694.67 189.36 695.80 C191.20 696.93 193.20 698.80 194.88 700.90 C196.56 703.00 197.92 705.62 199.44 708.40 C200.96 711.18 202.63 714.55 204.00 717.60 C205.37 720.65 206.60 723.80 207.68 726.70 C208.76 729.60 209.25 730.93 210.48 735.00 C211.71 739.07 213.52 745.37 215.04 751.10 C216.56 756.83 218.07 762.92 219.60 769.40 C221.13 775.88 222.93 783.78 224.24 790.00 C225.55 796.22 226.91 803.92 227.44 806.70" fill="none" stroke="#ff0000" stroke-width="1.20" stroke-dasharray="3.5 3.3" stroke-linejoin="round"/></g>
<g transform="scale(1.250 1)"><path d="M84.16 754.50 C84.60 752.92 85.81 748.25 86.80 745.00 C87.79 741.75 88.92 738.62 90.08 735.00 C91.24 731.38 92.39 727.35 93.76 723.30 C95.13 719.25 96.79 714.33 98.32 710.70 C99.85 707.07 101.43 703.70 102.96 701.50 C104.49 699.30 106.07 698.32 107.52 697.50 C108.97 696.68 110.15 696.42 111.68 696.60 C113.21 696.78 115.27 697.40 116.72 698.60 C118.17 699.80 119.19 701.60 120.40 703.80 C121.61 706.00 122.87 708.73 124.00 711.80 C125.13 714.87 126.53 720.12 127.20 722.20 C127.87 724.28 127.32 721.98 128.00 724.30 C128.68 726.62 130.32 732.75 131.28 736.10 C132.24 739.45 132.93 741.82 133.76 744.40 C134.59 746.98 135.28 748.85 136.24 751.60 C137.20 754.35 138.56 758.87 139.52 760.90 C140.48 762.93 141.03 763.13 142.00 763.80 C142.97 764.47 143.97 765.13 145.36 764.90 C146.75 764.67 148.67 763.67 150.32 762.40 C151.97 761.13 153.91 759.27 155.28 757.30 C156.65 755.33 157.47 753.62 158.56 750.60 C159.65 747.58 160.75 743.17 161.84 739.20 C162.93 735.23 163.88 731.27 165.12 726.80 C166.36 722.33 167.99 716.42 169.28 712.40 C170.57 708.38 171.52 705.47 172.88 702.70 C174.24 699.93 175.92 697.53 177.44 695.80 C178.96 694.07 180.63 692.97 182.00 692.30 C183.37 691.63 184.31 691.42 185.68 691.80 C187.05 692.18 188.56 693.08 190.24 694.60 C191.92 696.12 194.07 698.60 195.76 700.90 C197.45 703.20 198.87 705.43 200.40 708.40 C201.93 711.37 203.59 715.27 204.96 718.70 C206.33 722.13 207.72 726.28 208.64 729.00 C209.56 731.72 209.41 731.32 210.48 735.00 C211.55 738.68 213.52 745.37 215.04 751.10 C216.56 756.83 218.07 762.92 219.60 769.40 C221.13 775.88 222.93 783.78 224.24 790.00 C225.55 796.22 226.91 803.92 227.44 806.70" fill="none" stroke="#0000ff" stroke-width="1.20" stroke-dasharray="3.7 4.3 1.0 4.4" stroke-linejoin="round"/></g>
<line x1="121.20" y1="699.20" x2="121.20" y2="709.50" stroke="#000" stroke-width="1.1"/>
<path d="M118.80 706.74 L123.60 706.74 L121.20 702.06 Z" fill="#000"/>
<line x1="127.00" y1="691.80" x2="127.00" y2="699.80" stroke="#000" stroke-width="1.1"/>
<path d="M124.60 697.24 L129.40 697.24 L127.00 692.56 Z" fill="#000"/>
<line x1="131.90" y1="694.10" x2="131.90" y2="702.70" stroke="#000" stroke-width="1.1"/>
<path d="M129.50 699.84 L134.30 699.84 L131.90 695.16 Z" fill="#000"/>
<line x1="136.90" y1="685.50" x2="136.90" y2="692.30" stroke="#000" stroke-width="1.1"/>
<path d="M134.50 690.94 L139.30 690.94 L136.90 686.26 Z" fill="#000"/>
<line x1="142.20" y1="692.30" x2="142.20" y2="702.70" stroke="#000" stroke-width="1.1"/>
<path d="M139.80 699.54 L144.60 699.54 L142.20 694.86 Z" fill="#000"/>
<line x1="147.40" y1="688.30" x2="147.40" y2="698.10" stroke="#000" stroke-width="1.1"/>
<path d="M145.00 695.34 L149.80 695.34 L147.40 690.66 Z" fill="#000"/>
<line x1="152.50" y1="692.90" x2="152.50" y2="703.80" stroke="#000" stroke-width="1.1"/>
<path d="M150.10 700.14 L154.90 700.14 L152.50 695.46 Z" fill="#000"/>
<line x1="157.90" y1="698.60" x2="157.90" y2="713.60" stroke="#000" stroke-width="1.1"/>
<path d="M155.50 708.14 L160.30 708.14 L157.90 703.46 Z" fill="#000"/>
<line x1="163.30" y1="705.20" x2="163.30" y2="723.20" stroke="#000" stroke-width="1.1"/>
<path d="M160.90 715.44 L165.70 715.44 L163.30 710.76 Z" fill="#000"/>
<line x1="168.30" y1="710.80" x2="168.30" y2="733.50" stroke="#000" stroke-width="1.1"/>
<path d="M165.90 723.24 L170.70 723.24 L168.30 718.56 Z" fill="#000"/>
<line x1="173.40" y1="709.80" x2="173.40" y2="754.70" stroke="#000" stroke-width="1.1"/>
<path d="M171.00 727.84 L175.80 727.84 L173.40 723.16 Z" fill="#000"/>
<line x1="199.00" y1="724.30" x2="199.00" y2="771.70" stroke="#000" stroke-width="1.1"/>
<path d="M196.60 742.84 L201.40 742.84 L199.00 738.16 Z" fill="#000"/>
<line x1="204.40" y1="716.00" x2="204.40" y2="735.60" stroke="#000" stroke-width="1.1"/>
<path d="M202.00 726.64 L206.80 726.64 L204.40 721.96 Z" fill="#000"/>
<line x1="209.50" y1="706.20" x2="209.50" y2="720.10" stroke="#000" stroke-width="1.1"/>
<path d="M207.10 714.94 L211.90 714.94 L209.50 710.26 Z" fill="#000"/>
<line x1="214.70" y1="695.20" x2="214.70" y2="705.50" stroke="#000" stroke-width="1.1"/>
<path d="M212.30 702.14 L217.10 702.14 L214.70 697.46 Z" fill="#000"/>
<line x1="220.10" y1="698.60" x2="220.10" y2="705.00" stroke="#000" stroke-width="1.1"/>
<path d="M217.70 704.14 L222.50 704.14 L220.10 699.46 Z" fill="#000"/>
<line x1="225.00" y1="687.20" x2="225.00" y2="693.50" stroke="#000" stroke-width="1.1"/>
<path d="M222.60 692.64 L227.40 692.64 L225.00 687.96 Z" fill="#000"/>
<line x1="230.40" y1="682.00" x2="230.40" y2="690.00" stroke="#000" stroke-width="1.1"/>
<path d="M228.00 688.04 L232.80 688.04 L230.40 683.36 Z" fill="#000"/>
<line x1="235.60" y1="687.80" x2="235.60" y2="693.50" stroke="#000" stroke-width="1.1"/>
<path d="M233.20 692.64 L238.00 692.64 L235.60 687.96 Z" fill="#000"/>
<path d="M238.50 685.74 L243.30 685.74 L240.90 681.06 Z" fill="#000"/>
<path d="M243.50 696.64 L248.30 696.64 L245.90 691.96 Z" fill="#000"/>
<path d="M248.60 702.14 L253.40 702.14 L251.00 697.46 Z" fill="#000"/>
<path d="M253.80 715.64 L258.60 715.64 L256.20 710.96 Z" fill="#000"/>
<line x1="261.90" y1="718.70" x2="261.90" y2="730.20" stroke="#000" stroke-width="1.1"/>
<path d="M259.50 725.34 L264.30 725.34 L261.90 720.66 Z" fill="#000"/>
<line x1="266.90" y1="720.40" x2="266.90" y2="732.50" stroke="#000" stroke-width="1.1"/>
<path d="M264.50 728.24 L269.30 728.24 L266.90 723.56 Z" fill="#000"/>
<line x1="271.70" y1="736.70" x2="271.70" y2="749.90" stroke="#000" stroke-width="1.1"/>
<path d="M269.30 745.64 L274.10 745.64 L271.70 740.96 Z" fill="#000"/>
<line x1="277.40" y1="755.10" x2="277.40" y2="767.10" stroke="#000" stroke-width="1.1"/>
<path d="M275.00 763.44 L279.80 763.44 L277.40 758.76 Z" fill="#000"/>
<line x1="282.00" y1="768.30" x2="282.00" y2="788.90" stroke="#000" stroke-width="1.1"/>
<path d="M279.60 779.74 L284.40 779.74 L282.00 775.06 Z" fill="#000"/>
<line x1="287.50" y1="790.00" x2="287.50" y2="811.80" stroke="#000" stroke-width="1.1"/>
<path d="M285.10 801.64 L289.90 801.64 L287.50 796.96 Z" fill="#000"/>
</g>
<rect x="105.00" y="642.60" width="190.40" height="191.80" fill="none" stroke="#222" stroke-width="1.3"/>
<path d="M115.49 834.40 v-8.00 M115.49 642.60 v8.00" stroke="#333" stroke-width="0.7"/>
<path d="M132.78 834.40 v-4.00 M132.78 642.60 v4.00" stroke="#333" stroke-width="0.7"/>
<path d="M150.07 834.40 v-4.00 M150.07 642.60 v4.00" stroke="#333" stroke-width="0.7"/>
<path d="M167.36 834.40 v-4.00 M167.36 642.60 v4.00" stroke="#333" stroke-width="0.7"/>
<path d="M184.65 834.40 v-8.00 M184.65 642.60 v8.00" stroke="#333" stroke-width="0.7"/>
<path d="M201.94 834.40 v-4.00 M201.94 642.60 v4.00" stroke="#333" stroke-width="0.7"/>
<path d="M219.23 834.40 v-4.00 M219.23 642.60 v4.00" stroke="#333" stroke-width="0.7"/>
<path d="M236.52 834.40 v-4.00 M236.52 642.60 v4.00" stroke="#333" stroke-width="0.7"/>
<path d="M253.81 834.40 v-8.00 M253.81 642.60 v8.00" stroke="#333" stroke-width="0.7"/>
<path d="M271.10 834.40 v-4.00 M271.10 642.60 v4.00" stroke="#333" stroke-width="0.7"/>
<path d="M288.39 834.40 v-4.00 M288.39 642.60 v4.00" stroke="#333" stroke-width="0.7"/>
<path d="M105.00 812.02 h5.00 M295.40 812.02 h-5.00" stroke="#333" stroke-width="0.7"/>
<path d="M105.00 799.01 h5.00 M295.40 799.01 h-5.00" stroke="#333" stroke-width="0.7"/>
<path d="M105.00 789.79 h5.00 M295.40 789.79 h-5.00" stroke="#333" stroke-width="0.7"/>
<path d="M105.00 782.63 h5.00 M295.40 782.63 h-5.00" stroke="#333" stroke-width="0.7"/>
<path d="M105.00 776.78 h5.00 M295.40 776.78 h-5.00" stroke="#333" stroke-width="0.7"/>
<path d="M105.00 771.84 h5.00 M295.40 771.84 h-5.00" stroke="#333" stroke-width="0.7"/>
<path d="M105.00 767.56 h5.00 M295.40 767.56 h-5.00" stroke="#333" stroke-width="0.7"/>
<path d="M105.00 763.78 h5.00 M295.40 763.78 h-5.00" stroke="#333" stroke-width="0.7"/>
<path d="M105.00 760.40 h10.00 M295.40 760.40 h-10.00" stroke="#333" stroke-width="0.7"/>
<path d="M105.00 738.17 h5.00 M295.40 738.17 h-5.00" stroke="#333" stroke-width="0.7"/>
<path d="M105.00 725.16 h5.00 M295.40 725.16 h-5.00" stroke="#333" stroke-width="0.7"/>
<path d="M105.00 715.94 h5.00 M295.40 715.94 h-5.00" stroke="#333" stroke-width="0.7"/>
<path d="M105.00 708.78 h5.00 M295.40 708.78 h-5.00" stroke="#333" stroke-width="0.7"/>
<path d="M105.00 702.93 h5.00 M295.40 702.93 h-5.00" stroke="#333" stroke-width="0.7"/>
<path d="M105.00 697.99 h5.00 M295.40 697.99 h-5.00" stroke="#333" stroke-width="0.7"/>
<path d="M105.00 693.71 h5.00 M295.40 693.71 h-5.00" stroke="#333" stroke-width="0.7"/>
<path d="M105.00 689.93 h5.00 M295.40 689.93 h-5.00" stroke="#333" stroke-width="0.7"/>
<path d="M105.00 686.55 h10.00 M295.40 686.55 h-10.00" stroke="#333" stroke-width="0.7"/>
<path d="M105.00 664.32 h5.00 M295.40 664.32 h-5.00" stroke="#333" stroke-width="0.7"/>
<path d="M105.00 651.31 h5.00 M295.40 651.31 h-5.00" stroke="#333" stroke-width="0.7"/>
<path d="M292.3 799.2V833.9M294.7 799.2V833.9M290.4 799.2H295.3" stroke="#000" stroke-width="0.8" fill="none"/>
<g>
<path d="M392.40 694.60 C393.25 693.47 395.68 689.55 397.50 687.80 C399.32 686.05 401.48 684.92 403.30 684.10 C405.12 683.28 406.50 682.77 408.40 682.90 C410.30 683.03 412.88 683.80 414.70 684.90 C416.52 686.00 417.77 687.40 419.30 689.50 C420.83 691.60 422.47 694.35 423.90 697.50 C425.33 700.65 426.88 705.07 427.90 708.40 C428.92 711.73 428.97 713.22 430.00 717.50 C431.03 721.78 432.72 728.93 434.10 734.10 C435.48 739.27 436.92 744.03 438.30 748.50 C439.68 752.97 441.03 757.47 442.40 760.90 C443.77 764.33 445.30 767.07 446.50 769.10 C447.70 771.13 448.53 772.22 449.60 773.10 C450.67 773.98 451.70 774.45 452.90 774.40 C454.10 774.35 455.45 773.85 456.80 772.80 C458.15 771.75 459.62 770.08 461.00 768.10 C462.38 766.12 463.73 764.00 465.10 760.90 C466.47 757.80 467.83 753.80 469.20 749.50 C470.57 745.20 471.75 740.43 473.30 735.10 C474.85 729.77 476.77 723.00 478.50 717.50 C480.23 712.00 481.87 706.48 483.70 702.10 C485.53 697.72 487.58 694.27 489.50 691.20 C491.42 688.13 493.28 685.52 495.20 683.70 C497.12 681.88 499.27 680.97 501.00 680.30 C502.73 679.63 503.70 679.32 505.60 679.70 C507.50 680.08 510.12 681.07 512.40 682.60 C514.68 684.13 517.20 686.52 519.30 688.90 C521.40 691.28 523.08 693.65 525.00 696.90 C526.92 700.15 528.88 704.18 530.80 708.40 C532.72 712.62 534.68 717.77 536.50 722.20 C538.32 726.63 539.98 730.38 541.70 735.00 C543.42 739.62 545.18 744.93 546.80 749.90 C548.42 754.87 549.87 759.25 551.40 764.80 C552.93 770.35 554.57 776.70 556.00 783.20 C557.43 789.70 558.85 797.30 560.00 803.80 C561.15 810.30 562.13 817.18 562.90 822.20 C563.67 827.22 564.32 831.95 564.60 833.90" fill="none" stroke="#000" stroke-width="1.20" stroke-linejoin="round"/>
<g transform="scale(1.250 1)"><path d="M301.04 736.00 C301.12 735.60 300.83 735.90 301.52 733.60 C302.21 731.30 303.97 725.83 305.20 722.20 C306.43 718.57 307.51 715.05 308.88 711.80 C310.25 708.55 311.92 705.47 313.44 702.70 C314.96 699.93 316.47 697.12 318.00 695.20 C319.53 693.28 321.11 692.00 322.64 691.20 C324.17 690.40 325.52 690.22 327.20 690.40 C328.88 690.58 331.19 691.02 332.72 692.30 C334.25 693.58 335.19 695.62 336.40 698.10 C337.61 700.58 338.73 703.45 340.00 707.20 C341.27 710.95 342.79 715.95 344.00 720.60 C345.21 725.25 346.17 730.62 347.28 735.10 C348.39 739.58 349.67 744.07 350.64 747.50 C351.61 750.93 352.31 753.63 353.12 755.70 C353.93 757.77 354.63 758.65 355.52 759.90 C356.41 761.15 357.35 762.42 358.48 763.20 C359.61 763.98 360.88 764.73 362.32 764.60 C363.76 764.47 365.63 763.18 367.12 762.40 C368.61 761.62 370.04 760.93 371.28 759.90 C372.52 758.87 373.67 757.75 374.56 756.20 C375.45 754.65 375.96 752.75 376.64 750.60 C377.32 748.45 377.75 746.92 378.64 743.30 C379.53 739.68 380.89 733.53 382.00 728.90 C383.11 724.27 384.12 719.80 385.28 715.50 C386.44 711.20 387.60 706.38 388.96 703.10 C390.32 699.82 391.93 697.98 393.44 695.80 C394.95 693.62 396.32 691.33 398.00 690.00 C399.68 688.67 401.84 687.88 403.52 687.80 C405.20 687.72 406.40 688.17 408.08 689.50 C409.76 690.83 411.91 693.42 413.60 695.80 C415.29 698.18 416.71 700.75 418.24 703.80 C419.77 706.85 421.43 710.47 422.80 714.10 C424.17 717.73 425.25 722.12 426.48 725.60 C427.71 729.08 429.09 731.52 430.16 735.00 C431.23 738.48 431.81 742.10 432.88 746.50 C433.95 750.90 435.33 756.05 436.56 761.40 C437.79 766.75 439.01 772.48 440.24 778.60 C441.47 784.72 443.31 794.85 443.92 798.10" fill="none" stroke="#ff0000" stroke-width="1.20" stroke-dasharray="3.5 3.3" stroke-linejoin="round"/></g>
<g transform="scale(1.250 1)"><path d="M301.04 747.60 C301.57 745.50 303.09 739.23 304.24 735.00 C305.39 730.77 306.69 726.07 307.92 722.20 C309.15 718.33 310.23 715.25 311.60 711.80 C312.97 708.35 314.63 704.45 316.16 701.50 C317.69 698.55 319.27 695.85 320.80 694.10 C322.33 692.35 323.84 691.58 325.36 691.00 C326.88 690.42 328.39 690.18 329.92 690.60 C331.45 691.02 333.17 691.87 334.56 693.50 C335.95 695.13 337.03 697.53 338.24 700.40 C339.45 703.27 340.88 708.18 341.84 710.70 C342.80 713.22 343.23 713.15 344.00 715.50 C344.77 717.85 345.65 721.70 346.48 724.80 C347.31 727.90 348.13 731.02 348.96 734.10 C349.79 737.18 350.61 740.47 351.44 743.30 C352.27 746.13 352.96 748.85 353.92 751.10 C354.88 753.35 355.89 755.47 357.20 756.80 C358.51 758.13 360.24 759.13 361.76 759.10 C363.28 759.07 364.88 757.68 366.32 756.60 C367.76 755.52 369.16 754.12 370.40 752.60 C371.64 751.08 372.65 749.73 373.76 747.50 C374.87 745.27 375.95 742.47 377.04 739.20 C378.13 735.93 379.23 731.85 380.32 727.90 C381.41 723.95 382.36 719.98 383.60 715.50 C384.84 711.02 386.59 704.48 387.76 701.00 C388.93 697.52 389.39 696.80 390.64 694.60 C391.89 692.40 393.75 689.42 395.28 687.80 C396.81 686.18 398.47 685.38 399.84 684.90 C401.21 684.42 402.15 684.33 403.52 684.90 C404.89 685.47 406.40 686.58 408.08 688.30 C409.76 690.02 411.91 692.62 413.60 695.20 C415.29 697.78 416.71 700.45 418.24 703.80 C419.77 707.15 421.43 711.67 422.80 715.30 C424.17 718.93 425.25 722.32 426.48 725.60 C427.71 728.88 429.09 731.52 430.16 735.00 C431.23 738.48 431.81 742.10 432.88 746.50 C433.95 750.90 435.33 756.05 436.56 761.40 C437.79 766.75 439.01 772.48 440.24 778.60 C441.47 784.72 443.31 794.85 443.92 798.10" fill="none" stroke="#0000ff" stroke-width="1.20" stroke-dasharray="3.7 4.3 1.0 4.4" stroke-linejoin="round"/></g>
<line x1="392.40" y1="698.60" x2="392.40" y2="710.10" stroke="#000" stroke-width="1.1"/>
<path d="M390.00 706.44 L394.80 706.44 L392.40 701.76 Z" fill="#000"/>
<line x1="397.50" y1="689.50" x2="397.50" y2="696.90" stroke="#000" stroke-width="1.1"/>
<path d="M395.10 695.54 L399.90 695.54 L397.50 690.86 Z" fill="#000"/>
<line x1="403.00" y1="694.60" x2="403.00" y2="701.50" stroke="#000" stroke-width="1.1"/>
<path d="M400.60 700.14 L405.40 700.14 L403.00 695.46 Z" fill="#000"/>
<line x1="408.10" y1="680.30" x2="408.10" y2="686.60" stroke="#000" stroke-width="1.1"/>
<path d="M405.70 685.74 L410.50 685.74 L408.10 681.06 Z" fill="#000"/>
<line x1="413.30" y1="687.20" x2="413.30" y2="698.60" stroke="#000" stroke-width="1.1"/>
<path d="M410.90 694.94 L415.70 694.94 L413.30 690.26 Z" fill="#000"/>
<line x1="418.50" y1="678.00" x2="418.50" y2="691.80" stroke="#000" stroke-width="1.1"/>
<path d="M416.10 686.94 L420.90 686.94 L418.50 682.26 Z" fill="#000"/>
<line x1="423.70" y1="702.70" x2="423.70" y2="717.60" stroke="#000" stroke-width="1.1"/>
<path d="M421.30 711.54 L426.10 711.54 L423.70 706.86 Z" fill="#000"/>
<line x1="428.70" y1="698.10" x2="428.70" y2="710.70" stroke="#000" stroke-width="1.1"/>
<path d="M426.30 706.44 L431.10 706.44 L428.70 701.76 Z" fill="#000"/>
<line x1="433.90" y1="709.80" x2="433.90" y2="725.80" stroke="#000" stroke-width="1.1"/>
<path d="M431.50 719.54 L436.30 719.54 L433.90 714.86 Z" fill="#000"/>
<line x1="439.50" y1="711.90" x2="439.50" y2="729.90" stroke="#000" stroke-width="1.1"/>
<path d="M437.10 722.14 L441.90 722.14 L439.50 717.46 Z" fill="#000"/>
<line x1="470.20" y1="720.60" x2="470.20" y2="757.30" stroke="#000" stroke-width="1.1"/>
<path d="M467.80 736.64 L472.60 736.64 L470.20 731.96 Z" fill="#000"/>
<line x1="475.40" y1="708.30" x2="475.40" y2="724.30" stroke="#000" stroke-width="1.1"/>
<path d="M473.00 718.04 L477.80 718.04 L475.40 713.36 Z" fill="#000"/>
<line x1="480.60" y1="698.10" x2="480.60" y2="708.40" stroke="#000" stroke-width="1.1"/>
<path d="M478.20 705.24 L483.00 705.24 L480.60 700.56 Z" fill="#000"/>
<line x1="485.80" y1="691.20" x2="485.80" y2="700.40" stroke="#000" stroke-width="1.1"/>
<path d="M483.40 697.84 L488.20 697.84 L485.80 693.16 Z" fill="#000"/>
<line x1="490.90" y1="676.90" x2="490.90" y2="682.00" stroke="#000" stroke-width="1.1"/>
<path d="M488.50 682.04 L493.30 682.04 L490.90 677.36 Z" fill="#000"/>
<line x1="496.10" y1="678.60" x2="496.10" y2="683.70" stroke="#000" stroke-width="1.1"/>
<path d="M493.70 683.44 L498.50 683.44 L496.10 678.76 Z" fill="#000"/>
<line x1="501.30" y1="673.40" x2="501.30" y2="680.30" stroke="#000" stroke-width="1.1"/>
<path d="M498.90 679.44 L503.70 679.44 L501.30 674.76 Z" fill="#000"/>
<line x1="506.50" y1="675.10" x2="506.50" y2="680.90" stroke="#000" stroke-width="1.1"/>
<path d="M504.10 680.34 L508.90 680.34 L506.50 675.66 Z" fill="#000"/>
<line x1="511.50" y1="675.70" x2="511.50" y2="681.40" stroke="#000" stroke-width="1.1"/>
<path d="M509.10 680.84 L513.90 680.84 L511.50 676.16 Z" fill="#000"/>
<line x1="516.80" y1="680.90" x2="516.80" y2="686.00" stroke="#000" stroke-width="1.1"/>
<path d="M514.40 685.74 L519.20 685.74 L516.80 681.06 Z" fill="#000"/>
<path d="M519.80 687.24 L524.60 687.24 L522.20 682.56 Z" fill="#000"/>
<line x1="527.10" y1="699.20" x2="527.10" y2="705.00" stroke="#000" stroke-width="1.1"/>
<path d="M524.70 704.74 L529.50 704.74 L527.10 700.06 Z" fill="#000"/>
<line x1="532.30" y1="702.70" x2="532.30" y2="711.30" stroke="#000" stroke-width="1.1"/>
<path d="M529.90 709.24 L534.70 709.24 L532.30 704.56 Z" fill="#000"/>
<line x1="537.90" y1="731.60" x2="537.90" y2="743.60" stroke="#000" stroke-width="1.1"/>
<path d="M535.50 738.14 L540.30 738.14 L537.90 733.46 Z" fill="#000"/>
<line x1="543.40" y1="736.10" x2="543.40" y2="748.80" stroke="#000" stroke-width="1.1"/>
<path d="M541.00 744.54 L545.80 744.54 L543.40 739.86 Z" fill="#000"/>
<line x1="548.20" y1="764.80" x2="548.20" y2="782.60" stroke="#000" stroke-width="1.1"/>
<path d="M545.80 774.34 L550.60 774.34 L548.20 769.66 Z" fill="#000"/>
<line x1="553.40" y1="784.30" x2="553.40" y2="798.60" stroke="#000" stroke-width="1.1"/>
<path d="M551.00 792.64 L555.80 792.64 L553.40 787.96 Z" fill="#000"/>
<line x1="558.30" y1="777.40" x2="558.30" y2="811.80" stroke="#000" stroke-width="1.1"/>
<path d="M555.90 792.64 L560.70 792.64 L558.30 787.96 Z" fill="#000"/>
</g>
<rect x="376.20" y="642.60" width="189.90" height="191.80" fill="none" stroke="#222" stroke-width="1.3"/>
<path d="M386.39 834.40 v-8.00 M386.39 642.60 v8.00" stroke="#333" stroke-width="0.7"/>
<path d="M403.68 834.40 v-4.00 M403.68 642.60 v4.00" stroke="#333" stroke-width="0.7"/>
<path d="M420.97 834.40 v-4.00 M420.97 642.60 v4.00" stroke="#333" stroke-width="0.7"/>
<path d="M438.26 834.40 v-4.00 M438.26 642.60 v4.00" stroke="#333" stroke-width="0.7"/>
<path d="M455.55 834.40 v-8.00 M455.55 642.60 v8.00" stroke="#333" stroke-width="0.7"/>
<path d="M472.84 834.40 v-4.00 M472.84 642.60 v4.00" stroke="#333" stroke-width="0.7"/>
<path d="M490.13 834.40 v-4.00 M490.13 642.60 v4.00" stroke="#333" stroke-width="0.7"/>
<path d="M507.42 834.40 v-4.00 M507.42 642.60 v4.00" stroke="#333" stroke-width="0.7"/>
<path d="M524.71 834.40 v-8.00 M524.71 642.60 v8.00" stroke="#333" stroke-width="0.7"/>
<path d="M542.00 834.40 v-4.00 M542.00 642.60 v4.00" stroke="#333" stroke-width="0.7"/>
<path d="M559.29 834.40 v-4.00 M559.29 642.60 v4.00" stroke="#333" stroke-width="0.7"/>
<path d="M376.20 812.02 h5.00 M566.10 812.02 h-5.00" stroke="#333" stroke-width="0.7"/>
<path d="M376.20 799.01 h5.00 M566.10 799.01 h-5.00" stroke="#333" stroke-width="0.7"/>
<path d="M376.20 789.79 h5.00 M566.10 789.79 h-5.00" stroke="#333" stroke-width="0.7"/>
<path d="M376.20 782.63 h5.00 M566.10 782.63 h-5.00" stroke="#333" stroke-width="0.7"/>
<path d="M376.20 776.78 h5.00 M566.10 776.78 h-5.00" stroke="#333" stroke-width="0.7"/>
<path d="M376.20 771.84 h5.00 M566.10 771.84 h-5.00" stroke="#333" stroke-width="0.7"/>
<path d="M376.20 767.56 h5.00 M566.10 767.56 h-5.00" stroke="#333" stroke-width="0.7"/>
<path d="M376.20 763.78 h5.00 M566.10 763.78 h-5.00" stroke="#333" stroke-width="0.7"/>
<path d="M376.20 760.40 h10.00 M566.10 760.40 h-10.00" stroke="#333" stroke-width="0.7"/>
<path d="M376.20 738.17 h5.00 M566.10 738.17 h-5.00" stroke="#333" stroke-width="0.7"/>
<path d="M376.20 725.16 h5.00 M566.10 725.16 h-5.00" stroke="#333" stroke-width="0.7"/>
<path d="M376.20 715.94 h5.00 M566.10 715.94 h-5.00" stroke="#333" stroke-width="0.7"/>
<path d="M376.20 708.78 h5.00 M566.10 708.78 h-5.00" stroke="#333" stroke-width="0.7"/>
<path d="M376.20 702.93 h5.00 M566.10 702.93 h-5.00" stroke="#333" stroke-width="0.7"/>
<path d="M376.20 697.99 h5.00 M566.10 697.99 h-5.00" stroke="#333" stroke-width="0.7"/>
<path d="M376.20 693.71 h5.00 M566.10 693.71 h-5.00" stroke="#333" stroke-width="0.7"/>
<path d="M376.20 689.93 h5.00 M566.10 689.93 h-5.00" stroke="#333" stroke-width="0.7"/>
<path d="M376.20 686.55 h10.00 M566.10 686.55 h-10.00" stroke="#333" stroke-width="0.7"/>
<path d="M376.20 664.32 h5.00 M566.10 664.32 h-5.00" stroke="#333" stroke-width="0.7"/>
<path d="M376.20 651.31 h5.00 M566.10 651.31 h-5.00" stroke="#333" stroke-width="0.7"/>
<path d="M563.5 782.6V833.9" stroke="#000" stroke-width="0.9" fill="none"/>
<text transform="translate(99.89 593.00) scale(1.250 1)" font-size="10.60" fill="#1a1a1a" textLength="25.28" lengthAdjust="spacing" >&#8722;200</text>
<text transform="translate(181.35 593.00) scale(1.200 1)" font-size="10.60" fill="#1a1a1a" text-anchor="start" >0</text>
<text transform="translate(242.51 593.00) scale(1.380 1)" font-size="10.60" fill="#1a1a1a" textLength="16.67" lengthAdjust="spacing" >200</text>
<text transform="translate(160.80 612.20) scale(1.450 1)" font-size="11.00" fill="#1a1a1a" text-anchor="start" >p</text>
<text transform="translate(169.60 614.50) scale(1.300 1)" font-size="6.40" fill="#1a1a1a" text-anchor="start" font-weight="bold">m</text>
<path d="M186.00 604.60H183.40V612.30H186.00" fill="none" stroke="#1a1a1a" stroke-width="1.15"/>
<text transform="translate(187.00 612.20) scale(1.220 1)" font-size="11.00" fill="#1a1a1a" textLength="24.26" lengthAdjust="spacing" >MeV</text>
<line x1="216.40" y1="615.00" x2="226.20" y2="603.20" stroke="#1a1a1a" stroke-width="1.05"/>
<text transform="translate(226.80 612.20) scale(1.250 1)" font-size="11.00" fill="#1a1a1a" text-anchor="start" >c</text>
<path d="M236.00 604.60H238.60V612.30H236.00" fill="none" stroke="#1a1a1a" stroke-width="1.15"/>
<text transform="translate(370.79 593.00) scale(1.250 1)" font-size="10.60" fill="#1a1a1a" textLength="25.28" lengthAdjust="spacing" >&#8722;200</text>
<text transform="translate(452.25 593.00) scale(1.200 1)" font-size="10.60" fill="#1a1a1a" text-anchor="start" >0</text>
<text transform="translate(513.41 593.00) scale(1.380 1)" font-size="10.60" fill="#1a1a1a" textLength="16.67" lengthAdjust="spacing" >200</text>
<text transform="translate(431.70 612.20) scale(1.450 1)" font-size="11.00" fill="#1a1a1a" text-anchor="start" >p</text>
<text transform="translate(440.50 614.50) scale(1.300 1)" font-size="6.40" fill="#1a1a1a" text-anchor="start" font-weight="bold">m</text>
<path d="M456.90 604.60H454.30V612.30H456.90" fill="none" stroke="#1a1a1a" stroke-width="1.15"/>
<text transform="translate(457.90 612.20) scale(1.220 1)" font-size="11.00" fill="#1a1a1a" textLength="24.26" lengthAdjust="spacing" >MeV</text>
<line x1="487.30" y1="615.00" x2="497.10" y2="603.20" stroke="#1a1a1a" stroke-width="1.05"/>
<text transform="translate(497.70 612.20) scale(1.250 1)" font-size="11.00" fill="#1a1a1a" text-anchor="start" >c</text>
<path d="M506.90 604.60H509.50V612.30H506.90" fill="none" stroke="#1a1a1a" stroke-width="1.15"/>
<text transform="translate(99.89 847.50) scale(1.250 1)" font-size="10.60" fill="#1a1a1a" textLength="25.28" lengthAdjust="spacing" >&#8722;200</text>
<text transform="translate(181.35 847.50) scale(1.200 1)" font-size="10.60" fill="#1a1a1a" text-anchor="start" >0</text>
<text transform="translate(242.51 847.50) scale(1.380 1)" font-size="10.60" fill="#1a1a1a" textLength="16.67" lengthAdjust="spacing" >200</text>
<text transform="translate(160.80 866.90) scale(1.450 1)" font-size="11.00" fill="#1a1a1a" text-anchor="start" >p</text>
<text transform="translate(169.60 869.20) scale(1.300 1)" font-size="6.40" fill="#1a1a1a" text-anchor="start" font-weight="bold">m</text>
<path d="M186.00 859.30H183.40V867.00H186.00" fill="none" stroke="#1a1a1a" stroke-width="1.15"/>
<text transform="translate(187.00 866.90) scale(1.220 1)" font-size="11.00" fill="#1a1a1a" textLength="24.26" lengthAdjust="spacing" >MeV</text>
<line x1="216.40" y1="869.70" x2="226.20" y2="857.90" stroke="#1a1a1a" stroke-width="1.05"/>
<text transform="translate(226.80 866.90) scale(1.250 1)" font-size="11.00" fill="#1a1a1a" text-anchor="start" >c</text>
<path d="M236.00 859.30H238.60V867.00H236.00" fill="none" stroke="#1a1a1a" stroke-width="1.15"/>
<text transform="translate(370.79 847.50) scale(1.250 1)" font-size="10.60" fill="#1a1a1a" textLength="25.28" lengthAdjust="spacing" >&#8722;200</text>
<text transform="translate(452.25 847.50) scale(1.200 1)" font-size="10.60" fill="#1a1a1a" text-anchor="start" >0</text>
<text transform="translate(513.41 847.50) scale(1.380 1)" font-size="10.60" fill="#1a1a1a" textLength="16.67" lengthAdjust="spacing" >200</text>
<text transform="translate(431.70 866.90) scale(1.450 1)" font-size="11.00" fill="#1a1a1a" text-anchor="start" >p</text>
<text transform="translate(440.50 869.20) scale(1.300 1)" font-size="6.40" fill="#1a1a1a" text-anchor="start" font-weight="bold">m</text>
<path d="M456.90 859.30H454.30V867.00H456.90" fill="none" stroke="#1a1a1a" stroke-width="1.15"/>
<text transform="translate(457.90 866.90) scale(1.220 1)" font-size="11.00" fill="#1a1a1a" textLength="24.26" lengthAdjust="spacing" >MeV</text>
<line x1="487.30" y1="869.70" x2="497.10" y2="857.90" stroke="#1a1a1a" stroke-width="1.05"/>
<text transform="translate(497.70 866.90) scale(1.250 1)" font-size="11.00" fill="#1a1a1a" text-anchor="start" >c</text>
<path d="M506.90 859.30H509.50V867.00H506.90" fill="none" stroke="#1a1a1a" stroke-width="1.15"/>
<text transform="translate(79.80 408.60) scale(1.250 1)" font-size="9.70" fill="#1a1a1a" text-anchor="start" >1</text>
<text transform="translate(86.10 408.60) scale(1.550 1)" font-size="9.70" fill="#1a1a1a" text-anchor="start" >0</text>
<text transform="translate(96.70 404.60) scale(1.250 1)" font-size="8.30" fill="#1a1a1a" text-anchor="start" >2</text>
<text transform="translate(79.80 466.70) scale(1.250 1)" font-size="9.70" fill="#1a1a1a" text-anchor="start" >1</text>
<text transform="translate(86.10 466.70) scale(1.550 1)" font-size="9.70" fill="#1a1a1a" text-anchor="start" >0</text>
<text transform="translate(88.00 524.70) scale(1.250 1)" font-size="9.70" fill="#1a1a1a" text-anchor="start" >1</text>
<text transform="translate(75.50 582.80) scale(1.250 1)" font-size="9.70" fill="#1a1a1a" text-anchor="start" >1</text>
<text transform="translate(81.80 582.80) scale(1.550 1)" font-size="9.70" fill="#1a1a1a" text-anchor="start" >0</text>
<line x1="89.80" y1="572.80" x2="95.30" y2="572.80" stroke="#1a1a1a" stroke-width="0.8"/>
<text transform="translate(97.00 575.20) scale(1.250 1)" font-size="7.60" fill="#1a1a1a" text-anchor="start" >1</text>
<text transform="translate(351.00 422.80) scale(1.250 1)" font-size="9.70" fill="#1a1a1a" text-anchor="start" >1</text>
<text transform="translate(357.30 422.80) scale(1.550 1)" font-size="9.70" fill="#1a1a1a" text-anchor="start" >0</text>
<text transform="translate(367.90 418.80) scale(1.250 1)" font-size="8.30" fill="#1a1a1a" text-anchor="start" >2</text>
<text transform="translate(351.00 476.30) scale(1.250 1)" font-size="9.70" fill="#1a1a1a" text-anchor="start" >1</text>
<text transform="translate(357.30 476.30) scale(1.550 1)" font-size="9.70" fill="#1a1a1a" text-anchor="start" >0</text>
<text transform="translate(359.20 529.70) scale(1.250 1)" font-size="9.70" fill="#1a1a1a" text-anchor="start" >1</text>
<text transform="translate(346.70 582.80) scale(1.250 1)" font-size="9.70" fill="#1a1a1a" text-anchor="start" >1</text>
<text transform="translate(353.00 582.80) scale(1.550 1)" font-size="9.70" fill="#1a1a1a" text-anchor="start" >0</text>
<line x1="361.00" y1="572.80" x2="366.50" y2="572.80" stroke="#1a1a1a" stroke-width="0.8"/>
<text transform="translate(368.20 575.20) scale(1.250 1)" font-size="7.60" fill="#1a1a1a" text-anchor="start" >1</text>
<text transform="translate(79.80 690.00) scale(1.250 1)" font-size="9.70" fill="#1a1a1a" text-anchor="start" >1</text>
<text transform="translate(86.10 690.00) scale(1.550 1)" font-size="9.70" fill="#1a1a1a" text-anchor="start" >0</text>
<text transform="translate(88.00 763.70) scale(1.250 1)" font-size="9.70" fill="#1a1a1a" text-anchor="start" >1</text>
<text transform="translate(75.50 837.70) scale(1.250 1)" font-size="9.70" fill="#1a1a1a" text-anchor="start" >1</text>
<text transform="translate(81.80 837.70) scale(1.550 1)" font-size="9.70" fill="#1a1a1a" text-anchor="start" >0</text>
<line x1="89.80" y1="827.70" x2="95.30" y2="827.70" stroke="#1a1a1a" stroke-width="0.8"/>
<text transform="translate(97.00 830.10) scale(1.250 1)" font-size="7.60" fill="#1a1a1a" text-anchor="start" >1</text>
<text transform="translate(351.00 690.00) scale(1.250 1)" font-size="9.70" fill="#1a1a1a" text-anchor="start" >1</text>
<text transform="translate(357.30 690.00) scale(1.550 1)" font-size="9.70" fill="#1a1a1a" text-anchor="start" >0</text>
<text transform="translate(359.20 763.70) scale(1.250 1)" font-size="9.70" fill="#1a1a1a" text-anchor="start" >1</text>
<text transform="translate(346.70 837.70) scale(1.250 1)" font-size="9.70" fill="#1a1a1a" text-anchor="start" >1</text>
<text transform="translate(353.00 837.70) scale(1.550 1)" font-size="9.70" fill="#1a1a1a" text-anchor="start" >0</text>
<line x1="361.00" y1="827.70" x2="366.50" y2="827.70" stroke="#1a1a1a" stroke-width="0.8"/>
<text transform="translate(368.20 830.10) scale(1.250 1)" font-size="7.60" fill="#1a1a1a" text-anchor="start" >1</text>
<g transform="translate(57.40 525.20) rotate(-90)">
<text transform="translate(-0.50 0.00) scale(0.800 1)" font-size="15.60" fill="#1a1a1a" text-anchor="start" >&#963;</text>
<text transform="translate(7.40 2.50) scale(0.780 1)" font-size="7.40" fill="#1a1a1a" text-anchor="start" font-weight="bold">red</text>
<path d="M23.4 -11.0H21.7V-0.7H23.4" fill="none" stroke="#1a1a1a" stroke-width="1.15"/>
<path d="M28.2 -13.0Q22.4 -5.3 28.2 2.5" fill="none" stroke="#1a1a1a" stroke-width="1.0"/>
<text transform="translate(29.30 0.00) scale(0.700 1)" font-size="15.60" fill="#1a1a1a" text-anchor="start" >G</text>
<text transform="translate(37.40 0.00) scale(0.780 1)" font-size="15.60" fill="#1a1a1a" text-anchor="start" >e</text>
<text transform="translate(44.10 0.00) scale(0.740 1)" font-size="15.60" fill="#1a1a1a" text-anchor="start" >V</text>
<line x1="51.2" y1="2.6" x2="57.8" y2="-13.2" stroke="#1a1a1a" stroke-width="1.1"/>
<text transform="translate(58.80 0.00) scale(0.770 1)" font-size="15.60" fill="#1a1a1a" text-anchor="start" >c</text>
<path d="M66.6 -13.0Q72.4 -5.3 66.6 2.5" fill="none" stroke="#1a1a1a" stroke-width="1.0"/>
<text transform="translate(70.80 -7.70) scale(1.400 1)" font-size="9.00" fill="#1a1a1a" text-anchor="start" >-</text>
<text transform="translate(75.50 -7.70) scale(0.850 1)" font-size="9.00" fill="#1a1a1a" text-anchor="start" >3</text>
<path d="M79.6 -11.0H81.3V-0.7H79.6" fill="none" stroke="#1a1a1a" stroke-width="1.15"/>
</g>
<g transform="translate(328.40 525.20) rotate(-90)">
<text transform="translate(-0.50 0.00) scale(0.800 1)" font-size="15.60" fill="#1a1a1a" text-anchor="start" >&#963;</text>
<text transform="translate(7.40 2.50) scale(0.780 1)" font-size="7.40" fill="#1a1a1a" text-anchor="start" font-weight="bold">red</text>
<path d="M23.4 -11.0H21.7V-0.7H23.4" fill="none" stroke="#1a1a1a" stroke-width="1.15"/>
<path d="M28.2 -13.0Q22.4 -5.3 28.2 2.5" fill="none" stroke="#1a1a1a" stroke-width="1.0"/>
<text transform="translate(29.30 0.00) scale(0.700 1)" font-size="15.60" fill="#1a1a1a" text-anchor="start" >G</text>
<text transform="translate(37.40 0.00) scale(0.780 1)" font-size="15.60" fill="#1a1a1a" text-anchor="start" >e</text>
<text transform="translate(44.10 0.00) scale(0.740 1)" font-size="15.60" fill="#1a1a1a" text-anchor="start" >V</text>
<line x1="51.2" y1="2.6" x2="57.8" y2="-13.2" stroke="#1a1a1a" stroke-width="1.1"/>
<text transform="translate(58.80 0.00) scale(0.770 1)" font-size="15.60" fill="#1a1a1a" text-anchor="start" >c</text>
<path d="M66.6 -13.0Q72.4 -5.3 66.6 2.5" fill="none" stroke="#1a1a1a" stroke-width="1.0"/>
<text transform="translate(70.80 -7.70) scale(1.400 1)" font-size="9.00" fill="#1a1a1a" text-anchor="start" >-</text>
<text transform="translate(75.50 -7.70) scale(0.850 1)" font-size="9.00" fill="#1a1a1a" text-anchor="start" >3</text>
<path d="M79.6 -11.0H81.3V-0.7H79.6" fill="none" stroke="#1a1a1a" stroke-width="1.15"/>
</g>
<g transform="translate(57.40 779.70) rotate(-90)">
<text transform="translate(-0.50 0.00) scale(0.800 1)" font-size="15.60" fill="#1a1a1a" text-anchor="start" >&#963;</text>
<text transform="translate(7.40 2.50) scale(0.780 1)" font-size="7.40" fill="#1a1a1a" text-anchor="start" font-weight="bold">red</text>
<path d="M23.4 -11.0H21.7V-0.7H23.4" fill="none" stroke="#1a1a1a" stroke-width="1.15"/>
<path d="M28.2 -13.0Q22.4 -5.3 28.2 2.5" fill="none" stroke="#1a1a1a" stroke-width="1.0"/>
<text transform="translate(29.30 0.00) scale(0.700 1)" font-size="15.60" fill="#1a1a1a" text-anchor="start" >G</text>
<text transform="translate(37.40 0.00) scale(0.780 1)" font-size="15.60" fill="#1a1a1a" text-anchor="start" >e</text>
<text transform="translate(44.10 0.00) scale(0.740 1)" font-size="15.60" fill="#1a1a1a" text-anchor="start" >V</text>
<line x1="51.2" y1="2.6" x2="57.8" y2="-13.2" stroke="#1a1a1a" stroke-width="1.1"/>
<text transform="translate(58.80 0.00) scale(0.770 1)" font-size="15.60" fill="#1a1a1a" text-anchor="start" >c</text>
<path d="M66.6 -13.0Q72.4 -5.3 66.6 2.5" fill="none" stroke="#1a1a1a" stroke-width="1.0"/>
<text transform="translate(70.80 -7.70) scale(1.400 1)" font-size="9.00" fill="#1a1a1a" text-anchor="start" >-</text>
<text transform="translate(75.50 -7.70) scale(0.850 1)" font-size="9.00" fill="#1a1a1a" text-anchor="start" >3</text>
<path d="M79.6 -11.0H81.3V-0.7H79.6" fill="none" stroke="#1a1a1a" stroke-width="1.15"/>
</g>
<g transform="translate(328.40 779.70) rotate(-90)">
<text transform="translate(-0.50 0.00) scale(0.800 1)" font-size="15.60" fill="#1a1a1a" text-anchor="start" >&#963;</text>
<text transform="translate(7.40 2.50) scale(0.780 1)" font-size="7.40" fill="#1a1a1a" text-anchor="start" font-weight="bold">red</text>
<path d="M23.4 -11.0H21.7V-0.7H23.4" fill="none" stroke="#1a1a1a" stroke-width="1.15"/>
<path d="M28.2 -13.0Q22.4 -5.3 28.2 2.5" fill="none" stroke="#1a1a1a" stroke-width="1.0"/>
<text transform="translate(29.30 0.00) scale(0.700 1)" font-size="15.60" fill="#1a1a1a" text-anchor="start" >G</text>
<text transform="translate(37.40 0.00) scale(0.780 1)" font-size="15.60" fill="#1a1a1a" text-anchor="start" >e</text>
<text transform="translate(44.10 0.00) scale(0.740 1)" font-size="15.60" fill="#1a1a1a" text-anchor="start" >V</text>
<line x1="51.2" y1="2.6" x2="57.8" y2="-13.2" stroke="#1a1a1a" stroke-width="1.1"/>
<text transform="translate(58.80 0.00) scale(0.770 1)" font-size="15.60" fill="#1a1a1a" text-anchor="start" >c</text>
<path d="M66.6 -13.0Q72.4 -5.3 66.6 2.5" fill="none" stroke="#1a1a1a" stroke-width="1.0"/>
<text transform="translate(70.80 -7.70) scale(1.400 1)" font-size="9.00" fill="#1a1a1a" text-anchor="start" >-</text>
<text transform="translate(75.50 -7.70) scale(0.850 1)" font-size="9.00" fill="#1a1a1a" text-anchor="start" >3</text>
<path d="M79.6 -11.0H81.3V-0.7H79.6" fill="none" stroke="#1a1a1a" stroke-width="1.15"/>
</g>
<text transform="translate(150.30 406.60) scale(1.200 1)" font-size="6.40" fill="#ff00ff" textLength="6.92" lengthAdjust="spacing" font-weight="bold">40</text>
<text transform="translate(158.90 411.00) scale(1.080 1)" font-size="11.20" fill="#ff00ff" text-anchor="start" >C</text>
<text transform="translate(168.10 411.00) scale(1.160 1)" font-size="11.20" fill="#ff00ff" text-anchor="start" >a</text>
<text transform="translate(184.90 411.00) scale(1.050 1)" font-size="11.20" fill="#ff00ff" text-anchor="start" >1</text>
<text transform="translate(192.80 411.00) scale(1.200 1)" font-size="11.20" fill="#ff00ff" text-anchor="start" >d</text>
<text transform="translate(200.80 413.30) scale(1.200 1)" font-size="6.60" fill="#ff00ff" textLength="10.83" lengthAdjust="spacing" font-weight="bold">3/2</text>
<text transform="translate(159.00 521.60) scale(1.300 1)" font-size="9.90" fill="#ff00ff" textLength="36.15" lengthAdjust="spacing" >NIKHEF</text>
<text transform="translate(150.20 539.60) scale(1.250 1)" font-size="11.00" fill="#ff00ff" text-anchor="start" >E</text>
<text transform="translate(157.60 541.80) scale(1.250 1)" font-size="6.60" fill="#ff00ff" text-anchor="start" font-weight="bold">b</text>
<text transform="translate(162.40 539.60) scale(1.750 1)" font-size="11.00" fill="#ff00ff" text-anchor="start" >=</text>
<text transform="translate(173.80 539.60) scale(1.270 1)" font-size="11.00" fill="#ff00ff" text-anchor="start" >483</text>
<text transform="translate(197.80 539.60) scale(1.120 1)" font-size="11.00" fill="#ff00ff" textLength="23.57" lengthAdjust="spacing" >MeV</text>
<text transform="translate(490.40 406.60) scale(1.200 1)" font-size="6.40" fill="#ff00ff" textLength="6.92" lengthAdjust="spacing" font-weight="bold">40</text>
<text transform="translate(498.80 411.00) scale(1.080 1)" font-size="11.20" fill="#ff00ff" text-anchor="start" >C</text>
<text transform="translate(508.00 411.00) scale(1.160 1)" font-size="11.20" fill="#ff00ff" text-anchor="start" >a</text>
<text transform="translate(524.00 411.00) scale(1.300 1)" font-size="11.20" fill="#ff00ff" text-anchor="start" >2s</text>
<text transform="translate(540.50 413.30) scale(1.200 1)" font-size="6.60" fill="#ff00ff" textLength="10.50" lengthAdjust="spacing" font-weight="bold">1/2</text>
<text transform="translate(133.10 660.30) scale(1.200 1)" font-size="6.40" fill="#ff00ff" textLength="6.92" lengthAdjust="spacing" font-weight="bold">40</text>
<text transform="translate(141.70 664.90) scale(1.080 1)" font-size="11.20" fill="#ff00ff" text-anchor="start" >C</text>
<text transform="translate(150.90 664.90) scale(1.160 1)" font-size="11.20" fill="#ff00ff" text-anchor="start" >a</text>
<text transform="translate(163.90 664.90) scale(1.200 1)" font-size="11.20" fill="#ff00ff" text-anchor="start" >1d</text>
<text transform="translate(179.00 667.20) scale(1.200 1)" font-size="6.60" fill="#ff00ff" textLength="11.17" lengthAdjust="spacing" font-weight="bold">5/2</text>
<text transform="translate(201.00 664.90) scale(1.200 1)" font-size="11.20" fill="#ff00ff" text-anchor="start" >E</text>
<text transform="translate(209.00 667.20) scale(1.200 1)" font-size="6.60" fill="#ff00ff" text-anchor="start" font-weight="bold">x</text>
<text transform="translate(213.40 664.90) scale(1.410 1)" font-size="11.20" fill="#ff00ff" text-anchor="start" >=5.258</text>
<text transform="translate(404.10 660.30) scale(1.200 1)" font-size="6.40" fill="#ff00ff" textLength="6.92" lengthAdjust="spacing" font-weight="bold">40</text>
<text transform="translate(412.70 664.90) scale(1.080 1)" font-size="11.20" fill="#ff00ff" text-anchor="start" >C</text>
<text transform="translate(421.90 664.90) scale(1.160 1)" font-size="11.20" fill="#ff00ff" text-anchor="start" >a</text>
<text transform="translate(434.90 664.90) scale(1.200 1)" font-size="11.20" fill="#ff00ff" text-anchor="start" >1d</text>
<text transform="translate(450.00 667.20) scale(1.200 1)" font-size="6.60" fill="#ff00ff" textLength="11.17" lengthAdjust="spacing" font-weight="bold">5/2</text>
<text transform="translate(472.00 664.90) scale(1.200 1)" font-size="11.20" fill="#ff00ff" text-anchor="start" >E</text>
<text transform="translate(480.00 667.20) scale(1.200 1)" font-size="6.60" fill="#ff00ff" text-anchor="start" font-weight="bold">x</text>
<text transform="translate(484.40 664.90) scale(1.410 1)" font-size="11.20" fill="#ff00ff" text-anchor="start" >=6.328</text>
<line x1="393.0" y1="531.60" x2="421.2" y2="531.60" stroke="#111" stroke-width="1.05"/>
<g transform="scale(1.250 1)"><line x1="314.40" y1="547.50" x2="336.96" y2="547.50" stroke="#ff0000" stroke-width="1.1" stroke-dasharray="3.5 3.3"/></g>
<g transform="scale(1.250 1)"><line x1="314.40" y1="563.50" x2="336.96" y2="563.50" stroke="#0000ff" stroke-width="1.1" stroke-dasharray="3.7 4.3 1.0 4.4"/></g>
<text transform="translate(424.60 531.90) scale(1.100 1)" font-size="10.30" fill="#000" text-anchor="start" >e</text>
<text transform="translate(432.40 531.90) scale(1.620 1)" font-size="10.30" fill="#000" text-anchor="start" >+</text>
<text transform="translate(442.80 528.40) scale(1.200 1)" font-size="6.00" fill="#000" textLength="6.67" lengthAdjust="spacing" font-weight="bold">40</text>
<text transform="translate(451.50 531.90) scale(1.120 1)" font-size="10.30" fill="#000" text-anchor="start" >C</text>
<text transform="translate(460.80 531.90) scale(1.300 1)" font-size="10.30" fill="#000" text-anchor="start" >a</text>
<text transform="translate(424.60 548.00) scale(1.250 1)" font-size="10.30" fill="#ff0000" text-anchor="start" font-style="italic">&#957;</text>
<text transform="translate(432.40 548.00) scale(1.620 1)" font-size="10.30" fill="#ff0000" text-anchor="start" >+</text>
<text transform="translate(442.80 544.50) scale(1.200 1)" font-size="6.00" fill="#ff0000" textLength="6.67" lengthAdjust="spacing" font-weight="bold">40</text>
<text transform="translate(451.50 548.00) scale(1.120 1)" font-size="10.30" fill="#ff0000" text-anchor="start" >C</text>
<text transform="translate(460.80 548.00) scale(1.300 1)" font-size="10.30" fill="#ff0000" text-anchor="start" >a</text>
<text transform="translate(424.60 563.60) scale(1.250 1)" font-size="10.30" fill="#0000ff" text-anchor="start" font-style="italic">&#957;</text>
<text transform="translate(431.44 563.60) scale(1.460 1)" font-size="10.30" fill="#0000ff" text-anchor="start" >+</text>
<text transform="translate(441.20 560.10) scale(1.200 1)" font-size="6.00" fill="#0000ff" textLength="6.67" lengthAdjust="spacing" font-weight="bold">40</text>
<text transform="translate(449.90 563.60) scale(1.120 1)" font-size="10.30" fill="#0000ff" text-anchor="start" >C</text>
<text transform="translate(458.56 563.60) scale(1.300 1)" font-size="10.30" fill="#0000ff" text-anchor="start" >a</text>
<line x1="425.4" y1="556.1" x2="430.0" y2="556.1" stroke="#0000ff" stroke-width="0.9"/>
</svg>
</body></html>
